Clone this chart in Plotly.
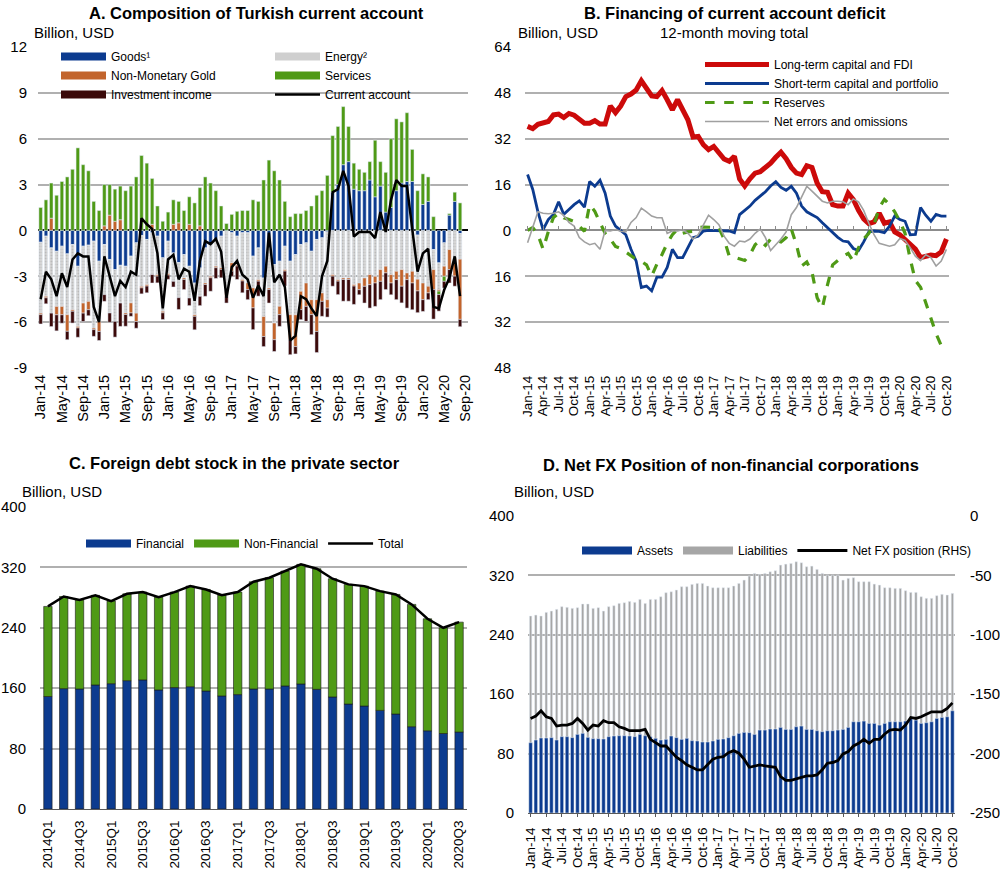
import plotly.graph_objects as go
import pandas as pd

W, H = 1000, 872
FONT = "Liberation Sans, Arial, sans-serif"

# ---------------- Panel A: composition of current account (monthly, Jan-14 .. Sep-20) -------------
months_a = pd.date_range("2014-01-01", "2020-09-01", freq="MS").strftime("%b-%y").tolist()
goods = [-0.77, -0.37, -1.14, -1.36, -1.03, -1.53, -0.92, -2.34, -1.03, -0.96, -0.7, -2.01,
         -0.92, -1.9, -2.56, -2.28, -2.34, -1.68, -0.81, -0.33, -0.59, -0.15, -0.37, -1.79,
         -0.7, -1.47, -2.1, -1.58, -2.34, -3.44, -2.45, -1.14, -0.92, -0.59, -0.37, -0.04,
         -0.15, -0.37, -0.15, -0.15, -1.68, -1.14, -3.11, -1.14, -2.23, -2.01, -1.03, -2.01,
         -1.58, -0.92, -0.81, -1.36, -0.59, -0.48, -0.09, 2.5, 3.0, 4.3, 4.5, 2.7,
         2.6, 2.6, 3.3, 2.2, 2.9, 1.2, 1.5, 2.6, 3.1, 3.2, 3.2, -0.3,
         1.7, 1.9, -1.25, -2.12, -0.81, 1.0, 1.9, -0.2, None]
energy = [-4.64, -3.94, -4.27, -3.61, -3.94, -3.98, -4.27, -3.94, -3.72, -3.68, -5.69, -3.94,
          -3.28, -3.5, -3.39, -2.47, -3.06, -3.06, -4.6, -3.33, -2.95, -2.74, -2.52, -3.5,
          -2.12, -1.86, -2.3, -1.53, -2.08, -2.08, -1.86, -2.3, -2.08, -1.75, -2.08, -3.94,
          -1.97, -1.86, -3.06, -3.28, -2.08, -2.08, -2.52, -2.63, -3.83, -2.95, -1.53, -3.5,
          -3.94, -3.06, -2.63, -3.17, -3.94, -3.61, -4.44, -2.89, -3.22, -3.11, -3.11, -3.54,
          -3.44, -3.11, -2.89, -3.0, -2.56, -2.34, -2.89, -2.67, -2.56, -2.78, -2.67, -2.89,
          -3.44, -3.65, -1.31, -1.75, -1.53, -1.25, -1.79, -1.68, None]
gold = [-0.1, -0.1, 0.8, -0.55, -0.55, -1.09, -0.1, -0.1, -0.66, -0.55, -0.1, -0.66,
        0.3, 1.0, 0.6, 0.7, -0.1, -0.66, -0.55, -0.1, -0.1, 0.4, -0.1, -0.1,
        -0.1, 0.4, 0.5, -0.1, 0.4, -0.1, 0.3, -0.1, -0.1, -0.1, -0.1, -0.33,
        -0.55, -0.1, -0.1, -0.44, -1.31, -0.1, -1.31, -0.1, -1.09, -0.55, -0.1, -1.64,
        -2.08, -1.2, -1.53, -0.98, -2.08, -0.55, -0.55, -0.1, -0.1, -0.1, -0.1, -0.1,
        -0.44, -0.55, -0.66, -0.44, -0.77, -0.44, -0.55, -0.55, -1.09, -0.44, -0.77, -0.77,
        -1.09, -0.44, -1.31, -0.1, -0.66, -1.31, -1.2, -3.94, None]
services = [1.5, 2.0, 2.3, 2.3, 3.2, 3.5, 4.0, 5.4, 4.3, 3.9, 1.9, 1.3,
            2.7, 2.0, 2.1, 2.2, 2.6, 2.9, 3.5, 4.9, 4.4, 3.0, 1.6, 0.6,
            1.2, 1.6, 1.4, 1.3, 1.8, 1.8, 2.5, 3.5, 3.1, 2.6, 1.6, 0.45,
            1.05, 1.25, 1.3, 1.3, 2.0, 1.9, 3.3, 4.6, 3.9, 3.3, 1.9, 0.9,
            1.1, 1.1, 1.3, 1.6, 2.3, 2.6, 3.6, 3.7, 3.8, 3.8, 2.3, 1.7,
            1.4, 1.2, 1.2, 3.7, 1.6, 2.6, 4.5, 4.7, 4.0, 4.5, 2.1, 2.6,
            2.0, 1.6, 0.9, -0.22, -0.33, 0.1, 0.6, 1.8, None]
inv_income = [-0.61, -0.39, -0.88, -1.05, -0.55, -0.55, -0.77, -0.61, -0.55, -0.39, -0.44, -0.59,
              -0.44, -0.61, -1.03, -1.53, -0.77, -0.22, -0.44, -0.39, -0.44, -0.55, -0.44, -0.44,
              -0.28, -0.37, -0.77, -0.66, -0.5, -0.88, -0.61, -0.77, -0.88, -0.7, -0.55, -0.44,
              -0.33, -0.88, -0.77, -0.66, -1.42, -0.98, -0.66, -0.88, -0.77, -0.77, -0.98, -0.98,
              -0.48, -0.66, -0.98, -1.31, -1.38, -0.98, -0.59, -0.66, -0.88, -1.42, -1.42, -1.2,
              -0.33, -1.09, -1.53, -1.53, -1.2, -1.09, -0.77, -1.31, -1.09, -1.86, -1.75, -1.42,
              -0.77, -0.44, -1.93, -1.09, -0.44, -0.88, -0.66, -0.48, None]
current_account = [-4.5, -2.7, -3.2, -4.3, -2.8, -3.7, -1.9, -1.5, -1.7, -1.7, -5.0, -6.0,
                   -1.7, -3.0, -4.3, -3.3, -3.7, -2.7, -2.9, 0.8, 0.4, 0.1, -1.5, -5.1,
                   -1.9, -1.6, -3.2, -2.5, -2.7, -4.6, -2.0, -0.7, -0.9, -0.55, -1.4, -4.4,
                   -2.4, -2.0, -2.9, -3.2, -4.4, -3.6, -4.3, -0.15, -3.4, -2.9, -3.7, -7.2,
                   -6.9, -4.3, -4.5, -5.1, -5.6, -3.0, -2.0, 2.5, 2.7, 3.9, 2.9, -0.4,
                   -0.1, -0.1, -0.1, -0.5, 1.2, -0.1, 2.0, 3.3, 2.9, 2.9, 0.0, -2.7,
                   -1.5, -1.2, -5.0, -5.1, -3.9, -3.1, -1.7, -4.3, None]

# ---------------- Panel B: financing, 12-month moving total (Jan-14 .. Oct-20) ----------------
months_b = pd.date_range("2014-01-01", "2020-10-01", freq="MS").strftime("%b-%y").tolist()
lt_capital_fdi = [36.3, 35.5, 37, 37.3, 38, 40.3, 40.6, 39.4, 40.8, 40.2, 38.6, 37.4, 37.4, 38.3,
                  37.1, 37.1, 43.4, 41.1, 43.4, 46.7, 47.6, 49.0, 52.2, 49.6, 46.9, 46.7, 48.8,
                  45.6, 42.1, 45.6, 42.4, 38.6, 32.6, 32.8, 29.9, 28.2, 29.3, 27.2, 24.9, 24.1,
                  25.9, 18, 15.5, 18, 20, 20.5, 21.8, 23.5, 25.5, 27.3, 25, 22, 20, 19.5, 22.6,
                  22, 16.5, 13.5, 13.3, 9, 8.5, 8.5, 13, 10.8, 7, 4, 2.4, 3, 6, 2.5, 3, -0.5,
                  -1.5, -3, -4.8, -6.5, -9.5, -9, -8.6, -8.8, -7.5, -3]
st_capital_portfolio = [19.5, 14.3, 6.5, 0.3, 3.8, 5.6, 10, 5.6, 7.3, 9, 10.3, 8.1, 17.1, 15.4,
                        17.5, 13, 5, 1.5, 0, -1.5, -6.6, -10.7, -19.9, -19.4, -21.1, -16.3,
                        -16.3, -12.9, -6.6, -9.5, -9.5, -6, -2.5, -2, -0.2, 0, 0, -0.2, -0.2,
                        -0.2, -0.8, 5.5, 7, 8.5, 10.5, 12, 13.5, 15.5, 17, 15, 14, 15.4, 13, 8.5,
                        6.5, 5.5, 4.5, 2.7, 1, -0.8, -2.4, -3.7, -4, -6.3, -7, -4, -0.5, -0.2,
                        -0.3, -0.8, 1.5, 5, 3.8, 3.2, -1.5, -1.4, 8, 5.3, 3.2, 5.6, 5, 5]
reserves = [0, 1, -1.5, -6.5, -0.5, 4.5, 6, 4.4, 3.8, 3.1, 1.5, -0.3, 9, 6.7, 2.7, -1, -3, -5.6,
            -6.3, -7.5, -9, -10.1, -10.8, -12, -15.9, -11.8, -8.4, -4.5, -1.5, 0.5, -1, -0.5,
            -0.3, 1, 1.2, 1.2, 1, 1, -3, -9, -9.3, -9.9, -10.5, -8.5, -5, -3.5, -5.2, -3, -3.5,
            -4, -2.5, 0.5, -5, -12.4, -11, -14.5, -23.5, -27, -19, -12, -10.5, -9, -8, -10.8,
            -6, -3, -1, 2, 8, 10.8, 9, 6.5, 3.2, -1, -10, -17.5, -19.8, -25.5, -31, -36,
            -40.2, -39]
net_errors = [-4.3, 1, 6.5, 6, 5.8, 6, 6.5, 5.3, 2.8, 1.5, -2.5, -4, -5, -4.5, -6.6, 0, -0.2, 0.3,
              -0.3, -0.5, 2.8, 4.5, 7.8, 6.5, 5, 4.4, 4.4, -1, -0.2, -0.2, 0.3, -1, -3, -1.5, 2,
              5.3, 3.8, 2, -2, -4.5, -5.5, -3.7, -4, -3, -1, 0.5, -2.5, -7, -5, -3, -0.5, 5.5,
              8, 12, 15.4, 13.7, 12, 10.2, 9.6, 10.2, 10.2, 10, 9, 11, 10, 7, 2.5, -1.5, -4.5,
              -5, -5.5, -5, -2.8, -3.5, -6, -9, -10.5, -8.5, -9.5, -12.4, -10.7, -6.6]

# ---------------- Panel C: foreign debt stock (quarterly, 2014Q1 .. 2020Q3) ----------------
quarters = [f"{y}Q{q}" for y in range(2014, 2021) for q in range(1, 5)][:27]
financial = [149, 159.4, 159, 164.3, 166, 170, 171, 157.7, 160.8, 162, 156.3, 149.7, 151.5,
             159, 159, 163, 165.6, 158.5, 148.4, 139, 136.4, 130.6, 125.8, 109, 103.6, 100, 101.9]
non_financial = [119.3, 122.1, 118, 118.7, 109.4, 115, 116.3, 123, 126.5, 133.2, 134.5, 133.6,
                 135.8, 142, 147.3, 152.1, 158.4, 159.7, 156.6, 158.5, 158.8, 158, 158.4, 162,
                 148.4, 140, 145.6]
total_debt = [round(a + b, 1) for a, b in zip(financial, non_financial)]

# ---------------- Panel D: net FX position of NFCs (monthly, Jan-14 .. Oct-20) ----------------
assets = [94.7, 98.3, 101, 101, 101.5, 98.3, 102.8, 102.8, 101.5, 105.9, 107.3, 101.9, 100.1, 100.1,
          99.7, 102.8, 103.7, 104.1, 104.1, 103.7, 102.8, 105.9, 104.1, 102.8, 100.6, 98.3, 99.2,
          103.7, 101.5, 99.2, 100.6, 97.4, 97, 95.6, 95.6, 97, 99.2, 99.7, 101.5, 104.1, 107.3,
          108.6, 108.2, 105.9, 111.7, 111.7, 113.1, 113.1, 115.3, 112.6, 112.6, 116.2, 117.1,
          112.6, 112.6, 110.8, 109.5, 110.8, 110.8, 111.7, 112.6, 115.3, 122.9, 122.9, 123.8,
          120.7, 120.7, 118.4, 120.7, 122.9, 122.9, 122.9, 123.8, 128.3, 125.1, 120.7, 121.6,
          122.9, 127.4, 128.7, 129.6, 137.7]
liabilities = [265.3, 266.6, 265.3, 270.2, 272, 274.3, 277.9, 277, 275.6, 276.5, 281.5, 281.5,
               275.6, 276.5, 272, 277.9, 279.2, 282.3, 283.2, 285, 283.7, 287.7, 282.3, 287.7,
               287.7, 291.3, 296.7, 298, 300.3, 304.8, 304.8, 307.9, 309.2, 309.2, 305.7, 303.4,
               303.4, 303.4, 303.4, 305.7, 309.2, 313.7, 319.1, 322.7, 321.3, 322.7, 324.9, 326.3,
               333.9, 335.2, 336.1, 338.4, 337, 331.7, 332.5, 328.1, 322.7, 320.4, 320.4, 320.4,
               313.7, 316, 316.9, 311.5, 311.5, 311.5, 308.3, 307, 303.4, 303.4, 302.5, 302.5,
               299.4, 297.1, 297.1, 291.3, 289.1, 289.1, 292.7, 294.5, 293.6, 295.8]
net_fx = [-170.4, -168.4, -164, -169, -170.4, -176.8, -176, -176, -174.6, -170.4, -174.6, -180.2,
          -176, -176.8, -172.3, -174, -174, -177.4, -178.8, -180.7, -180.7, -180.7, -179.6, -188,
          -190.8, -193.6, -193.6, -198.3, -203.1, -205.9, -209.5, -211.5, -213.7, -213.7, -209.5,
          -204.7, -203.1, -202.5, -199.2, -197.5, -199.7, -204.7, -211.5, -210.3, -209.5, -210.3,
          -210.9, -211.5, -219.3, -222.6, -222.6, -221.5, -219.8, -218.7, -218.7, -217.9, -213.7,
          -208.1, -207.5, -205.9, -200.3, -198.3, -193.6, -191.3, -188, -191.3, -188, -188,
          -183.5, -180.2, -179.6, -180.2, -176, -169.6, -170.4, -169, -166.8, -164.8, -164.8,
          -164.8, -162, -157.3]

# ---------------- styling ----------------
BLUE = "#0c3b8f"
GREEN = "#4f9a16"
GOLD = "#c2642c"
DARK = "#3b0909"
ENERGY = "#d6d6d6"
RED = "#cc0a0a"
GRID = "#b0b0b0"
LEG_ALPHA = "rgba(0,0,0,0)"


def px(x):
    return x / W


def py(y):
    return 1 - y / H


xa = list(range(len(months_a)))
xb = list(range(len(months_b)))
xc = list(range(len(quarters)))
xd = list(range(len(months_b)))

fig = go.Figure()

# ---- Panel A bars ----
fig.add_bar(x=xa, y=goods, marker_color=BLUE, width=0.66, name="Goods¹", showlegend=False,
            xaxis="x", yaxis="y")
fig.add_bar(x=xa, y=energy, width=0.66, name="Energy²", showlegend=False,
            marker=dict(color=ENERGY, pattern=dict(shape=".", fgcolor="#9e9e9e", size=3, solidity=0.35)),
            xaxis="x", yaxis="y")
fig.add_bar(x=xa, y=gold, marker_color=GOLD, width=0.66, name="Non-Monetary Gold", showlegend=False,
            xaxis="x", yaxis="y")
fig.add_bar(x=xa, y=services, marker_color=GREEN, width=0.66, name="Services", showlegend=False,
            xaxis="x", yaxis="y")
fig.add_bar(x=xa, y=inv_income, marker_color=DARK, width=0.66, name="Investment income", showlegend=False,
            xaxis="x", yaxis="y")
# legend swatches (panel A)
for nm, col, lg in [("Goods¹", BLUE, "legend"), ("Non-Monetary Gold", GOLD, "legend"),
                    ("Investment income", DARK, "legend"), ("Energy²", "#cfcfcf", "legend5"),
                    ("Services", GREEN, "legend5")]:
    fig.add_scatter(x=[None], y=[None], mode="lines", line=dict(color=col, width=8), name=nm,
                    legend=lg, xaxis="x", yaxis="y", hoverinfo="skip")
fig.add_scatter(x=xa, y=current_account, mode="lines", line=dict(color="black", width=2.5),
                name="Current account", legend="legend5", xaxis="x", yaxis="y")

# ---- Panel B lines ----
fig.add_scatter(x=xb, y=lt_capital_fdi, mode="lines", line=dict(color=RED, width=5),
                name="Long-term capital and FDI", legend="legend2", xaxis="x2", yaxis="y2")
fig.add_scatter(x=xb, y=st_capital_portfolio, mode="lines", line=dict(color=BLUE, width=2.8),
                name="Short-term capital and portfolio", legend="legend2", xaxis="x2", yaxis="y2")
fig.add_scatter(x=xb, y=reserves, mode="lines", line=dict(color=GREEN, width=3.2, dash="dash"),
                name="Reserves", legend="legend2", xaxis="x2", yaxis="y2")
fig.add_scatter(x=xb, y=net_errors, mode="lines", line=dict(color="#a0a0a0", width=1.6),
                name="Net errors and omissions", legend="legend2", xaxis="x2", yaxis="y2")
fig.add_scatter(x=xb, y=[None] * len(xb), mode="lines", showlegend=False, hoverinfo="skip",
                xaxis="x5", yaxis="y2")

# ---- Panel C ----
fig.add_bar(x=xc, y=financial, width=0.53, marker=dict(color=BLUE, line=dict(color="#1a1a1a", width=0.6)),
            name="Financial", showlegend=False, xaxis="x3", yaxis="y3")
fig.add_bar(x=xc, y=non_financial, width=0.53, marker=dict(color=GREEN, line=dict(color="#1a1a1a", width=0.6)),
            name="Non-Financial", showlegend=False, xaxis="x3", yaxis="y3")
for nm, col in [("Financial", BLUE), ("Non-Financial", GREEN)]:
    fig.add_scatter(x=[None], y=[None], mode="lines", line=dict(color=col, width=8), name=nm,
                    legend="legend3", xaxis="x3", yaxis="y3", hoverinfo="skip")
fig.add_scatter(x=xc, y=total_debt, mode="lines", line=dict(color="black", width=2.5),
                name="Total", legend="legend3", xaxis="x3", yaxis="y3")

# ---- Panel D ----
fig.add_bar(x=xd, y=liabilities, width=0.45, marker_color="#a6a6a6", name="Liabilities",
            showlegend=False, xaxis="x4", yaxis="y4")
fig.add_bar(x=xd, y=assets, width=0.68, marker_color=BLUE, name="Assets",
            showlegend=False, xaxis="x4", yaxis="y5")
for nm, col in [("Assets", BLUE), ("Liabilities", "#a6a6a6")]:
    fig.add_scatter(x=[None], y=[None], mode="lines", line=dict(color=col, width=8), name=nm,
                    legend="legend4", xaxis="x4", yaxis="y4", hoverinfo="skip")
fig.add_scatter(x=xd, y=net_fx, mode="lines", line=dict(color="black", width=2.8),
                name="Net FX position (RHS)", legend="legend4", xaxis="x4", yaxis="y6")

# ---------------- axes ----------------
dom_ab_y = [py(368), py(47)]
dom_c_y = [py(809), py(507)]
dom_d_y = [py(813), py(516)]


def neg_text(vals):
    return [str(v) for v in vals]


ya_vals = list(range(-9, 13, 3))
yb_vals = list(range(-48, 65, 16))
yb_text = [str(abs(v)) for v in yb_vals]
yc_vals = list(range(0, 401, 80))
yd_right = list(range(-250, 1, 50))

common_x = dict(showgrid=False, zeroline=False, showline=False, tickangle=-90, ticks="")
common_y = dict(showgrid=True, gridcolor=GRID, gridwidth=1.5, showline=False, ticks="",
                tickfont=dict(size=15))

zero_b_pos = dom_ab_y[0] + (48 / 112) * (dom_ab_y[1] - dom_ab_y[0])

fig.update_layout(
    xaxis=dict(domain=[px(38), px(468)], anchor="y", range=[-0.5, 80.5],
               tickvals=xa[::4], ticktext=months_a[::4], tickfont=dict(size=14.5),
               ticklabelstandoff=3, **common_x),
    yaxis=dict(domain=dom_ab_y, anchor="x", range=[-9, 12], tickvals=ya_vals,
               ticktext=neg_text(ya_vals), zeroline=True, zerolinecolor="black", zerolinewidth=1.6,
               ticklabelstandoff=10, **common_y),
    xaxis2=dict(domain=[px(525), px(949)], anchor="y2", range=[-0.5, 81.5],
                tickvals=xb[::3], ticktext=months_b[::3], tickfont=dict(size=13.5),
                ticklabelstandoff=4, **common_x),
    yaxis2=dict(domain=dom_ab_y, anchor="x2", range=[-48, 64], tickvals=yb_vals, ticktext=yb_text,
                zeroline=True, zerolinecolor="#8c8c8c", zerolinewidth=1.6,
                ticklabelstandoff=13, **common_y),
    xaxis5=dict(overlaying="x2", anchor="free", position=zero_b_pos, range=[-0.5, 81.5],
                tickvals=xb[::3], showticklabels=False, ticks="inside", ticklen=4, tickwidth=1,
                tickcolor="#8c8c8c", showgrid=False, zeroline=False, showline=False),
    xaxis3=dict(domain=[px(40), px(467)], anchor="y3", range=[-0.5, 26.5],
                tickvals=xc[::2], ticktext=quarters[::2], tickfont=dict(size=13.5),
                ticklabelstandoff=5, showgrid=False, zeroline=False, tickangle=-90, ticks="",
                showline=True, linecolor="#595959", linewidth=1.2),
    yaxis3=dict(domain=dom_c_y, anchor="x3", range=[0, 400], tickvals=yc_vals,
                zeroline=False, ticklabelstandoff=13, **common_y),
    xaxis4=dict(domain=[px(528), px(955)], anchor="y4", range=[-0.5, 81.5],
                tickvals=xd[::3], ticktext=months_b[::3], tickfont=dict(size=13.5),
                ticklabelstandoff=5, showgrid=False, zeroline=False, tickangle=-90,
                ticks="outside", ticklen=3, tickcolor="#595959",
                showline=True, linecolor="#595959", linewidth=1.2),
    yaxis4=dict(domain=dom_d_y, anchor="x4", range=[0, 400], tickvals=yc_vals,
                zeroline=False, ticklabelstandoff=13, **common_y),
    yaxis5=dict(overlaying="y4", anchor="x4", range=[0, 400], visible=False),
    yaxis6=dict(overlaying="y4", anchor="x4", side="right", range=[-250, 0], tickvals=yd_right,
                ticktext=neg_text(yd_right), showgrid=False, zeroline=False, showline=False,
                ticks="", tickfont=dict(size=15), ticklabelstandoff=14),
)

leg_common = dict(bgcolor=LEG_ALPHA, borderwidth=0, font=dict(size=12), xanchor="left",
                  yanchor="top", tracegroupgap=0, traceorder="normal")
fig.update_layout(
    legend=dict(x=px(56), y=py(42), itemwidth=45, **leg_common),
    legend5=dict(x=px(270), y=py(42), itemwidth=45, **leg_common),
    legend2=dict(x=px(700), y=py(50), itemwidth=64, **leg_common),
    legend3=dict(x=px(81), y=py(529), orientation="h", itemwidth=45, **leg_common),
    legend4=dict(x=px(577), y=py(536), orientation="h", itemwidth=50, **leg_common),
)

# ---------------- titles & units ----------------
ann = []


def text(x, y, s, size=15, bold=False, anchor="center"):
    ann.append(dict(x=px(x), y=py(y), xref="paper", yref="paper", showarrow=False,
                    text=f"<b>{s}</b>" if bold else s, font=dict(size=size, color="black"),
                    xanchor=anchor, yanchor="middle"))


text(256, 13, "A. Composition of Turkish current account", 16.5, True)
text(32, 32, "Billion, USD", 15, anchor="left")
text(735, 13, "B. Financing of current account deficit", 16.5, True)
text(734, 32, "12-month moving total", 15)
text(516, 32, "Billion, USD", 15, anchor="left")
text(234, 463, "C. Foreign debt stock in the private sector", 16.5, True)
text(20, 492, "Billion, USD", 15, anchor="left")
text(731, 465, "D. Net FX Position of non-financial corporations", 16.5, True)
text(512, 492, "Billion, USD", 15, anchor="left")

fig.update_layout(
    annotations=ann, width=W, height=H, margin=dict(l=0, r=0, t=0, b=0, autoexpand=False),
    paper_bgcolor="white", plot_bgcolor="white", barmode="relative",
    font=dict(family=FONT, size=14, color="black"), showlegend=True,
)

fig.write_html("out.html", config={"displayModeBar": False},
               post_script="document.body.style.margin='0';document.body.style.overflow='hidden';")
